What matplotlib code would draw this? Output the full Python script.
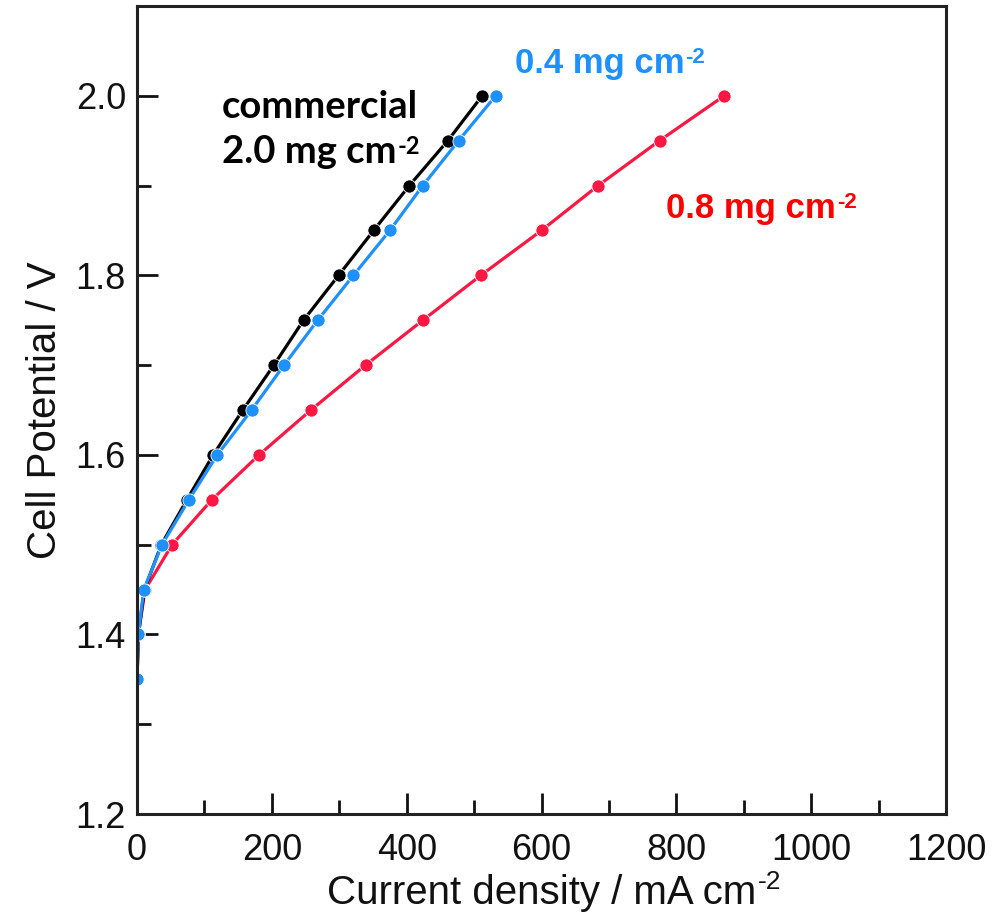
import matplotlib.pyplot as plt
from matplotlib.ticker import MultipleLocator

# Cell potential steps (V) shared by all three curves
potential = [1.35, 1.40, 1.45, 1.50, 1.55, 1.60, 1.65, 1.70, 1.75, 1.80, 1.85, 1.90, 1.95, 2.00]

# Current density (mA cm-2)
current_commercial = [0, 2, 11, 36, 74, 113, 157, 203, 247, 299, 351, 404, 461, 512]
current_04 = [0, 2, 10, 37, 77, 119, 170, 218, 268, 321, 375, 424, 477, 532]
current_08 = [0, 2, 12, 52, 111, 181, 258, 339, 424, 510, 600, 684, 775, 871]

BLACK = "#000000"
BLUE = "#1E90FF"
RED = "#FF1744"

plt.rcParams["font.family"] = ["Liberation Sans", "DejaVu Sans"]

fig = plt.figure(figsize=(9.95, 9.22), dpi=100)
ax = fig.add_axes([0.1377, 0.1171, 0.8131, 0.8764])

style = dict(linewidth=2.3, marker="o", markersize=9.5, markeredgecolor="white", markeredgewidth=0.6)
ax.plot(current_08, potential, color=RED, **style)
ax.plot(current_commercial, potential, color=BLACK, **style)
ax.plot(current_04, potential, color=BLUE, **style)

ax.set_xlim(0, 1200)
ax.set_ylim(1.2, 2.1)
ax.xaxis.set_major_locator(MultipleLocator(200))
ax.xaxis.set_minor_locator(MultipleLocator(100))
ax.yaxis.set_minor_locator(MultipleLocator(0.1))
ax.set_yticks([1.2, 1.4, 1.6, 1.8, 2.0])
ax.set_yticklabels(["1.2", "1.4", "1.6", "1.8", "2.0"])
ax.tick_params(which="both", direction="in", width=2, labelsize=26, colors="#111111")
ax.tick_params(which="major", length=15)
ax.tick_params(which="minor", length=10)
ax.tick_params(axis="x", pad=14)
ax.tick_params(axis="y", pad=8)
for s in ax.spines.values():
    s.set_linewidth(2.2)
    s.set_color("#222222")

ax.set_xlabel("Current density / mA cm", fontsize=29, labelpad=4, color="#111111")
ax.set_ylabel("Cell Potential / V", fontsize=29, labelpad=8, color="#111111")


def add_sup(parent, txt, size, color, weight="normal", family=None, dy=0):
    # small hyphen-style superscript glued to the top right of a text
    kw = dict(fontsize=size, color=color, fontweight=weight, va="top", ha="left")
    if family:
        kw["family"] = family
    ax.annotate(txt, xy=(1, 1), xycoords=parent, xytext=(1, dy),
                textcoords="offset points", **kw)


add_sup(ax.xaxis.label, "-2", 19, "#111111", dy=3)

lato = ["Lato", "DejaVu Sans"]
ax.text(126, 1.9756, "commercial", fontsize=27.5, fontweight="bold", color=BLACK,
        family=lato, ha="left", va="baseline")
t = ax.text(126, 1.9256, "2.0 mg cm", fontsize=27.5, fontweight="bold", color=BLACK,
            family=lato, ha="left", va="baseline")
add_sup(t, "-2", 17, BLACK, "bold", lato, dy=0)

t = ax.text(560, 2.0256, "0.4 mg cm", fontsize=25, fontweight="bold", color=BLUE,
            ha="left", va="baseline")
add_sup(t, "-2", 16, BLUE, "bold", dy=0)

t = ax.text(785, 1.8644, "0.8 mg cm", fontsize=25, fontweight="bold", color="#FF0000",
            ha="left", va="baseline")
add_sup(t, "-2", 16, "#FF0000", "bold", dy=0)

fig.savefig("out.png", dpi=100)
